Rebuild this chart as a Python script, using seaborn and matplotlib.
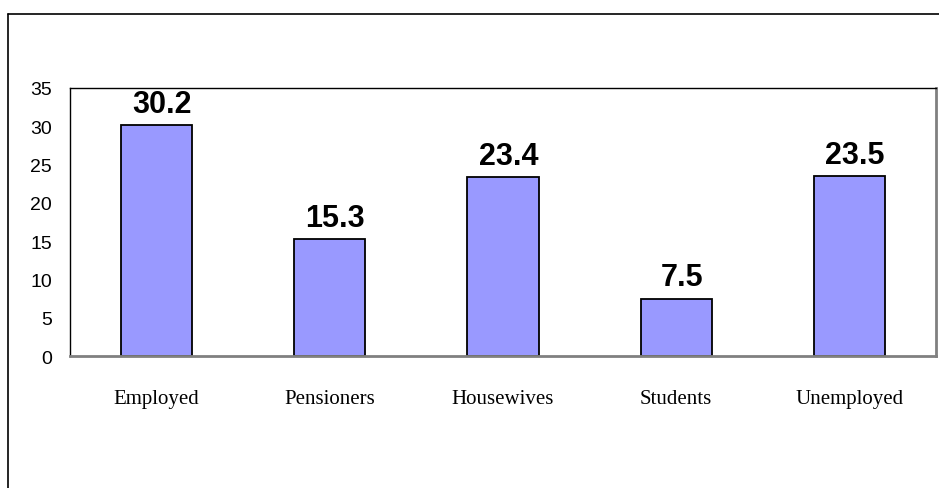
import matplotlib
matplotlib.use("Agg")
import matplotlib.pyplot as plt
from matplotlib.lines import Line2D
import seaborn as sns
import pandas as pd

categories = ["Employed", "Pensioners", "Housewives", "Students", "Unemployed"]
values = [30.2, 15.3, 23.4, 7.5, 23.5]
yticks = [0, 5, 10, 15, 20, 25, 30, 35]

sns.set_style("white")
plt.rcParams["font.family"] = ["Liberation Sans", "DejaVu Sans"]
plt.rcParams["text.color"] = "black"
plt.rcParams["xtick.color"] = "black"
plt.rcParams["ytick.color"] = "black"

df = pd.DataFrame({"group": categories, "value": values})

fig = plt.figure(figsize=(9.39, 4.89), dpi=100)
ax = fig.add_axes([70 / 939, 132 / 489, 866 / 939, 268 / 489])

sns.barplot(data=df, x="group", y="value", color="#9999FF", width=0.41,
            edgecolor="black", linewidth=1.3, saturation=1, ax=ax)

ax.set_xlim(-0.5, len(categories) - 0.5)
ax.set_ylim(0, 35)
ax.set_yticks(yticks)
ax.set_yticklabels([str(t) for t in yticks], fontsize=14, family=["Liberation Sans"],
                   color="black")
ax.set_xticks(range(len(categories)))
ax.set_xticklabels(categories, fontsize=15, family=["Liberation Serif"], color="black")
ax.tick_params(axis="y", length=0, pad=13)
ax.tick_params(axis="x", length=0, pad=24)
ax.set_xlabel("")
ax.set_ylabel("")

for side in ("top", "left"):
    ax.spines[side].set_color("black")
    ax.spines[side].set_linewidth(1.0)
for side in ("right", "bottom"):
    ax.spines[side].set_color("#808080")
    ax.spines[side].set_linewidth(2.0)

for i, v in enumerate(values):
    ax.annotate(f"{v:.1f}", xy=(i, v), xytext=(4, 9.5), textcoords="offset points",
                ha="center", va="baseline", fontsize=22, fontweight="bold",
                family=["Liberation Sans"], color="black")

# outer chart frame: top and left edges
fig.add_artist(Line2D([8 / 939, 1.0], [1 - 15 / 489, 1 - 15 / 489],
                      transform=fig.transFigure, color="black", linewidth=1.2))
fig.add_artist(Line2D([8 / 939, 8 / 939], [0.0, 1 - 15 / 489],
                      transform=fig.transFigure, color="black", linewidth=1.2))

fig.savefig("out.png", dpi=100, facecolor="white")
